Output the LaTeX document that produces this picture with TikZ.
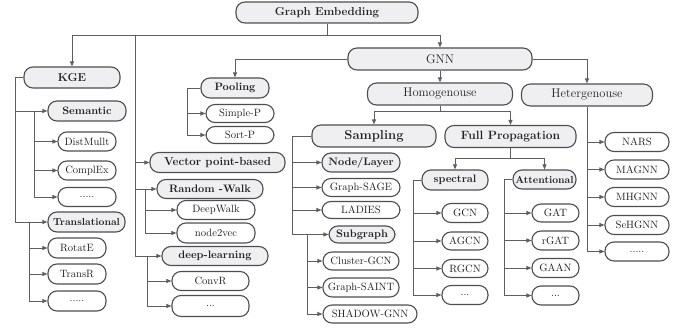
\documentclass[tikz,border=0pt]{standalone}
\usetikzlibrary{arrows.meta}
\definecolor{boxfill}{HTML}{EFEFF2}
\definecolor{boxline}{HTML}{4E4E4E}
\definecolor{conn}{HTML}{5E5E5E}
\definecolor{txt}{HTML}{222222}
\begin{document}
\begin{tikzpicture}[x=1pt,y=-1pt,
  base/.style={draw=boxline, line width=1.1pt, rounded corners=9pt, inner sep=0pt, text=txt, align=center},
  cat/.style={base, fill=boxfill, font=\fontsize{10.8}{12}\selectfont\bfseries},
  mid/.style={base, fill=boxfill, font=\fontsize{12.5}{13}\selectfont},
  leaf/.style={base, fill=white, font=\fontsize{10.6}{12}\selectfont},
  ln/.style={draw=conn, line width=0.9pt},
  arr/.style={ln, -{Triangle[length=5pt,width=4pt]}}]
\useasboundingbox (0,0) rectangle (681,328);

% top
\node[cat, minimum width=182pt, minimum height=21pt, font=\fontsize{11.5}{12}\selectfont\bfseries] (ge) at (327,12.5) {Graph Embedding};

% KGE branch
\node[cat, minimum width=96pt, minimum height=21pt, font=\fontsize{11.5}{12}\selectfont\bfseries] (kge) at (72,77.5) {KGE};
\node[cat, minimum width=78pt, minimum height=20pt] (sem) at (87,111) {Semantic};
\node[leaf, minimum width=58pt, minimum height=19pt] (dm) at (87,141.5) {DistMullt};
\node[leaf, minimum width=58pt, minimum height=19pt] (cx) at (87,170.5) {ComplEx};
\node[leaf, minimum width=58pt, minimum height=19pt] (d1) at (87,197) {.....};
\node[cat, minimum width=77pt, minimum height=20pt, font=\fontsize{10.2}{12}\selectfont\bfseries] (tr) at (86.5,222) {Translational};
\node[leaf, minimum width=58pt, minimum height=20pt] (rot) at (77,248) {RotatE};
\node[leaf, minimum width=58pt, minimum height=20pt] (trr) at (77,274) {TransR};
\node[leaf, minimum width=58pt, minimum height=20pt] (d2) at (77,301) {.....};

% Vector point-based branch
\node[cat, minimum width=135pt, minimum height=20pt, font=\fontsize{11.5}{12}\selectfont\bfseries] (vpb) at (217.5,162.5) {Vector point-based};
\node[cat, minimum width=106pt, minimum height=19pt] (rw) at (210,189) {Random -Walk};
\node[leaf, minimum width=78pt, minimum height=19pt] (dw) at (216,210) {DeepWalk};
\node[leaf, minimum width=78pt, minimum height=20pt] (n2v) at (216,233) {node2vec};
\node[cat, minimum width=106pt, minimum height=19pt] (dl) at (215,256) {deep-learning};
\node[leaf, minimum width=77pt, minimum height=19pt] (cvr) at (210.5,281) {ConvR};
\node[leaf, minimum width=77pt, minimum height=21pt] (d3) at (210.5,306) {...};

% Pooling
\node[cat, minimum width=68pt, minimum height=20pt] (pool) at (235,88) {Pooling};
\node[leaf, minimum width=68pt, minimum height=18pt] (spp) at (240,113.5) {Simple-P};
\node[leaf, minimum width=68pt, minimum height=17pt] (stp) at (240,135) {Sort-P};

% GNN
\node[mid, minimum width=184pt, minimum height=22pt] (gnn) at (440,59) {GNN};
\node[mid, minimum width=145pt, minimum height=22pt] (homo) at (440,94) {Homogenouse};
\node[mid, minimum width=131pt, minimum height=22pt] (het) at (587,95) {Hetergenouse};

% Hetergenouse leaves
\node[leaf, minimum width=64pt, minimum height=19pt] (nars) at (637,142) {NARS};
\node[leaf, minimum width=64pt, minimum height=19pt] (magnn) at (637,169.5) {MAGNN};
\node[leaf, minimum width=64pt, minimum height=19pt] (mhgnn) at (637,197) {MHGNN};
\node[leaf, minimum width=64pt, minimum height=19pt] (sehgnn) at (637,225) {SeHGNN};
\node[leaf, minimum width=64pt, minimum height=19pt] (d4) at (637,251.5) {.....};

% Sampling
\node[cat, minimum width=124pt, minimum height=22pt, font=\fontsize{13}{14}\selectfont\bfseries] (samp) at (374,136) {Sampling};
\node[cat, minimum width=78pt, minimum height=19pt] (nl) at (361,162.5) {Node/Layer};
\node[leaf, minimum width=78pt, minimum height=18pt] (gsage) at (361,187.5) {Graph-SAGE};
\node[leaf, minimum width=78pt, minimum height=17pt] (lad) at (361,210) {LADIES};
\node[cat, minimum width=66pt, minimum height=17pt] (sub) at (362,234.5) {Subgraph};
\node[leaf, minimum width=76pt, minimum height=18pt] (cgcn) at (361,261) {Cluster-GCN};
\node[leaf, minimum width=76pt, minimum height=19pt] (gsaint) at (361,287.5) {Graph-SAINT};
\node[leaf, minimum width=94pt, minimum height=18pt] (shadow) at (370,314) {SHADOW-GNN};

% Full propagation
\node[cat, minimum width=131pt, minimum height=22pt, font=\fontsize{12}{13}\selectfont\bfseries] (fp) at (510.5,136.5) {Full Propagation};
\node[cat, minimum width=66pt, minimum height=20pt] (spec) at (455,180) {spectral};
\node[cat, minimum width=63pt, minimum height=19pt, font=\fontsize{10.2}{12}\selectfont\bfseries] (att) at (544.5,179.5) {Attentional};
\node[leaf, minimum width=46pt, minimum height=19pt] (gcn) at (465,213) {GCN};
\node[leaf, minimum width=46pt, minimum height=18pt] (agcn) at (465,241) {AGCN};
\node[leaf, minimum width=46pt, minimum height=18pt] (rgcn) at (465,268.5) {RGCN};
\node[leaf, minimum width=46pt, minimum height=19pt] (d5) at (465,295) {...};
\node[leaf, minimum width=47pt, minimum height=18pt] (gat) at (555.5,213) {GAT};
\node[leaf, minimum width=47pt, minimum height=19pt] (rgat) at (555.5,240.5) {rGAT};
\node[leaf, minimum width=47pt, minimum height=19pt] (gaan) at (555.5,268) {GAAN};
\node[leaf, minimum width=47pt, minimum height=19pt] (d6) at (555.5,295.5) {...};

% ---------- connectors ----------
\coordinate (j0) at (327,35);
\coordinate (vt) at (135,35);
\draw[ln] (ge.south) -- (j0);
\draw[arr] (j0) -| (kge.north);
\draw[arr] (j0) -| (gnn.north);
\draw[arr] (vt) |- (vpb.west);
\draw[arr] (vt) |- (rw.west);
\draw[arr] (vt) |- (dl.west);

% KGE
\coordinate (kx) at (15,77.5);
\coordinate (s0) at (15,111);
\coordinate (s1) at (34,111);
\coordinate (t1) at (29,222);
\draw[arr] (kge.west) -- (kx) |- (tr.west);
\draw[arr] (s0) -- (sem.west);
\draw[arr] (s1) |- (dm.west);
\draw[arr] (s1) |- (cx.west);
\draw[arr] (s1) |- (d1.west);
\draw[arr] (t1) |- (rot.west);
\draw[arr] (t1) |- (trr.west);
\draw[arr] (t1) |- (d2.west);

% Vector
\coordinate (r1) at (145,189);
\draw[arr] (r1) |- (dw.west);
\draw[arr] (r1) |- (n2v.west);
\coordinate (dl1) at (147,256);
\draw[arr] (dl1) |- (cvr.west);
\draw[arr] (dl1) |- (d3.west);

% Pooling
\draw[arr] (gnn.west) -| (pool.north);
\coordinate (p1) at (187,88);
\draw[ln] (pool.west) -- (p1);
\draw[arr] (p1) |- (spp.west);
\draw[arr] (p1) |- (stp.west);

% GNN
\draw[arr] (gnn.south) -- (homo.north);
\draw[arr] (gnn.east) -| (het.north);
\draw[arr] (het.south) |- (nars.west);
\draw[arr] (het.south) |- (magnn.west);
\draw[arr] (het.south) |- (mhgnn.west);
\draw[arr] (het.south) |- (sehgnn.west);
\draw[arr] (het.south) |- (d4.west);

% Homogenouse
\coordinate (h1) at (440,111);
\draw[ln] (homo.south) -- (h1);
\draw[arr] (h1) -| (samp.north);
\draw[arr] (h1) -| (fp.north);

% Sampling
\coordinate (sa1) at (292,136);
\draw[ln] (samp.west) -- (sa1);
\draw[arr] (sa1) |- (nl.west);
\draw[arr] (sa1) |- (gsage.west);
\draw[arr] (sa1) |- (lad.west);
\draw[arr] (sa1) |- (sub.west);
\coordinate (sb1) at (307,234.5);
\draw[arr] (sb1) |- (cgcn.west);
\draw[arr] (sb1) |- (gsaint.west);
\draw[arr] (sb1) |- (shadow.west);

% Full propagation
\coordinate (f1) at (510.5,158);
\draw[ln] (fp.south) -- (f1);
\draw[arr] (f1) -| (spec.north);
\draw[arr] (f1) -| (att.north);
\coordinate (sc1) at (413,180);
\draw[ln] (spec.west) -- (sc1);
\draw[arr] (sc1) |- (gcn.west);
\draw[arr] (sc1) |- (agcn.west);
\draw[arr] (sc1) |- (rgcn.west);
\draw[arr] (sc1) |- (d5.west);
\coordinate (at1) at (504,179.5);
\draw[ln] (att.west) -- (at1);
\draw[arr] (at1) |- (gat.west);
\draw[arr] (at1) |- (rgat.west);
\draw[arr] (at1) |- (gaan.west);
\draw[arr] (at1) |- (d6.west);
\end{tikzpicture}
\end{document}
